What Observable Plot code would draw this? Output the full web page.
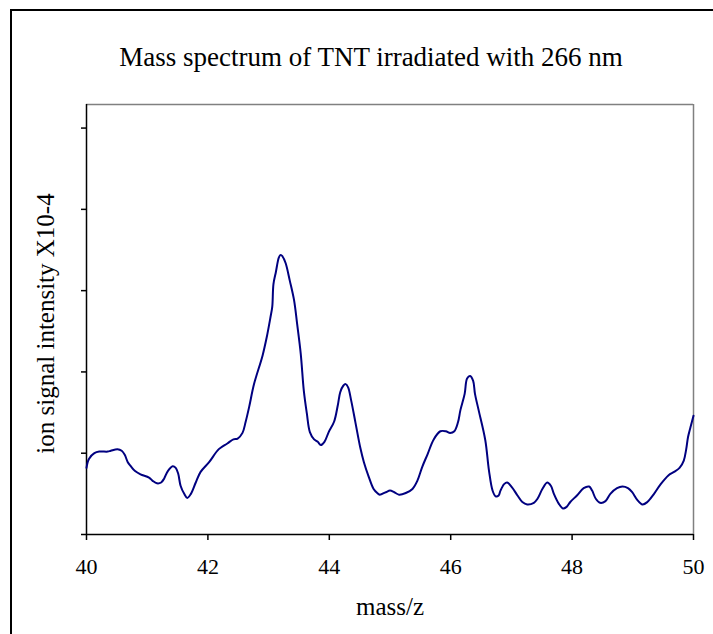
<!DOCTYPE html>
<html>
<head>
<meta charset="utf-8">
<script src="https://cdn.jsdelivr.net/npm/d3@7"></script>
<script src="https://cdn.jsdelivr.net/npm/@observablehq/plot@0.6"></script>
<style>
  html, body { margin: 0; padding: 0; background: #fff; overflow: hidden; }
  #wrap { position: relative; width: 713px; height: 634px; }
  #border { position: absolute; left: 10px; top: 9px; width: 800px; height: 800px; border: 2px solid #000; pointer-events: none; }
</style>
</head>
<body>
<div id="wrap"><div id="chart"></div><div id="border"></div></div>
<script>
const titleText = "Mass spectrum of TNT irradiated with 266 nm";
const xLabel = "mass/z";
const yLabel = "ion signal intensity X10-4";
const xTicks = [40, 42, 44, 46, 48, 50];
const yTicks = [0, 1, 2, 3, 4, 5];
const yTop = 5.29;

const mz = [40.00, 40.04, 40.13, 40.21, 40.35, 40.40, 40.51, 40.58, 40.63, 40.68,
  40.73, 40.80, 40.89, 41.03, 41.09, 41.16, 41.23, 41.28, 41.34, 41.42,
  41.47, 41.51, 41.55, 41.61, 41.66, 41.72, 41.80, 41.88, 42.02, 42.18,
  42.32, 42.42, 42.49, 42.57, 42.62, 42.68, 42.76, 42.90, 42.97, 43.03,
  43.06, 43.08, 43.12, 43.17, 43.20, 43.23, 43.28, 43.35, 43.42, 43.47,
  43.53, 43.58, 43.63, 43.68, 43.75, 43.81, 43.86, 43.92, 43.99, 44.08,
  44.14, 44.18, 44.23, 44.27, 44.31, 44.36, 44.43, 44.51, 44.57, 44.65,
  44.73, 44.79, 44.83, 44.93, 45.00, 45.07, 45.15, 45.26, 45.37, 45.45,
  45.53, 45.62, 45.72, 45.83, 45.92, 45.99, 46.06, 46.12, 46.16, 46.23,
  46.27, 46.32, 46.37, 46.40, 46.46, 46.57, 46.63, 46.69, 46.74, 46.79,
  46.82, 46.88, 46.93, 47.01, 47.10, 47.18, 47.26, 47.37, 47.43, 47.51,
  47.59, 47.65, 47.70, 47.78, 47.85, 47.91, 47.97, 48.08, 48.19, 48.28,
  48.33, 48.39, 48.46, 48.55, 48.63, 48.74, 48.83, 48.92, 48.99, 49.07,
  49.16, 49.24, 49.35, 49.46, 49.59, 49.68, 49.77, 49.84, 49.88, 49.91,
  49.95, 50.00];

const intensity = [0.82, 0.93, 1.00, 1.02, 1.02, 1.03, 1.05, 1.03, 0.98, 0.89,
  0.84, 0.78, 0.74, 0.70, 0.66, 0.63, 0.64, 0.69, 0.78, 0.84,
  0.82, 0.75, 0.60, 0.50, 0.45, 0.50, 0.64, 0.77, 0.89, 1.05,
  1.12, 1.17, 1.18, 1.25, 1.38, 1.57, 1.85, 2.20, 2.43, 2.67,
  2.80, 3.08, 3.23, 3.41, 3.44, 3.42, 3.34, 3.12, 2.88, 2.59,
  2.22, 1.77, 1.49, 1.26, 1.17, 1.14, 1.10, 1.14, 1.26, 1.39,
  1.59, 1.75, 1.83, 1.85, 1.81, 1.65, 1.38, 1.07, 0.89, 0.71,
  0.56, 0.51, 0.49, 0.52, 0.54, 0.52, 0.49, 0.51, 0.56, 0.66,
  0.83, 0.99, 1.17, 1.27, 1.27, 1.25, 1.27, 1.38, 1.53, 1.73,
  1.92, 1.95, 1.89, 1.73, 1.53, 1.16, 0.79, 0.54, 0.47, 0.48,
  0.54, 0.62, 0.64, 0.58, 0.48, 0.40, 0.37, 0.39, 0.44, 0.56,
  0.64, 0.60, 0.50, 0.38, 0.32, 0.34, 0.40, 0.48, 0.57, 0.59,
  0.54, 0.44, 0.39, 0.41, 0.50, 0.57, 0.59, 0.57, 0.52, 0.43,
  0.37, 0.40, 0.50, 0.62, 0.73, 0.77, 0.82, 0.91, 1.05, 1.20,
  1.32, 1.46];

const data = mz.map((m, i) => ({mz: m, v: intensity[i]}));
const font = "'Liberation Serif', 'Times New Roman', serif";

const chart = Plot.plot({
  width: 713,
  height: 634,
  marginLeft: 86,
  marginRight: 20,
  marginTop: 104,
  marginBottom: 100,
  x: {domain: [40, 50]},
  y: {domain: [0, yTop]},
  style: {fontFamily: font, fontSize: "22px", background: "transparent", color: "#000"},
  marks: [
    Plot.ruleY([yTop], {stroke: "#808080", strokeWidth: 1.5}),
    Plot.ruleX([50], {stroke: "#808080", strokeWidth: 1.5}),
    Plot.ruleX([40], {stroke: "#000", strokeWidth: 1.5}),
    Plot.ruleY([0], {stroke: "#000", strokeWidth: 1.5}),
    Plot.axisX({ticks: xTicks, tickSize: 6, tickPadding: 18, tickFormat: d => String(d), fontSize: 22, label: null, strokeWidth: 1.5}),
    Plot.axisY({ticks: yTicks, tickSize: 5, tickFormat: () => "", label: null, strokeWidth: 1.5}),
    Plot.line(data, {x: "mz", y: "v", stroke: "#000080", strokeWidth: 2, curve: "catmull-rom"}),
    Plot.text([titleText], {text: d => d, frameAnchor: "top", lineAnchor: "middle", textAnchor: "middle", dy: -47, dx: -19, fontSize: 27}),
    Plot.text([xLabel], {text: d => d, frameAnchor: "bottom", lineAnchor: "middle", textAnchor: "middle", dy: 72, fontSize: 25}),
    Plot.text([yLabel], {text: d => d, frameAnchor: "left", lineAnchor: "middle", textAnchor: "middle", rotate: -90, dx: -41, dy: 4, fontSize: 25})
  ]
});
document.getElementById("chart").appendChild(chart);
</script>
</body>
</html>
